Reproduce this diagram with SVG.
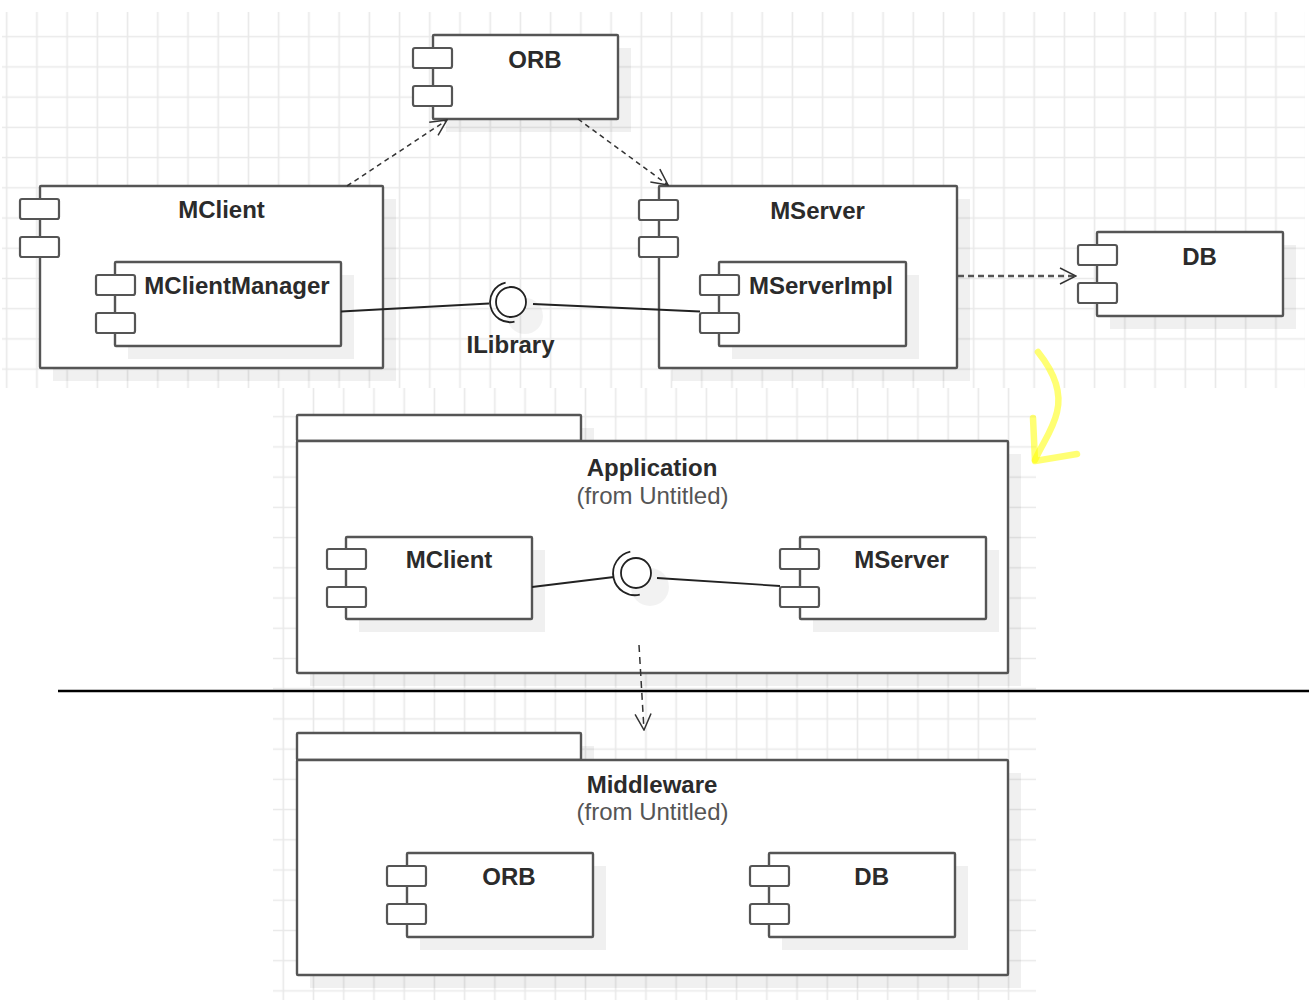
<svg xmlns="http://www.w3.org/2000/svg" width="1309" height="1000" viewBox="0 0 1309 1000">
<style>
.box{fill:#fff;stroke:#555;stroke-width:2.4}
.tab{fill:#fff;stroke:#555;stroke-width:2.2}
.sh{fill:#000;fill-opacity:0.06}
.name{font-family:"Liberation Sans",Arial,sans-serif;font-weight:bold;font-size:24px;fill:#2b2b2b;text-anchor:middle}
.from{font-family:"Liberation Sans",Arial,sans-serif;font-size:24px;fill:#555;text-anchor:middle}
.link{fill:none;stroke:#222;stroke-width:1.8}
.dep{fill:none;stroke:#333;stroke-width:1.5;stroke-dasharray:5 4}
.ball{fill:#fff;stroke:#222;stroke-width:1.8}
</style>
<defs>
<pattern id="gridTop" patternUnits="userSpaceOnUse" x="-8.41" y="21.59" width="30.22" height="30.22">
<path d="M15.11 0V30.22M0 15.11H30.22" stroke="#e9e9e9" stroke-width="1.6" fill="none"/>
</pattern>
<pattern id="gridLow" patternUnits="userSpaceOnUse" x="268.2" y="401.6" width="30.22" height="30.22">
<path d="M15.11 0V30.22M0 15.11H30.22" stroke="#e9e9e9" stroke-width="1.6" fill="none"/>
</pattern>
<marker id="open" viewBox="0 0 18 18" refX="17" refY="9" markerWidth="18" markerHeight="18" markerUnits="userSpaceOnUse" orient="auto">
<path d="M1,1 L17,9 L1,17" fill="none" stroke="#333" stroke-width="1.5"/>
</marker>
</defs>
<rect width="1309" height="1000" fill="#fff"/>
<rect x="2" y="12" width="1303" height="376" fill="url(#gridTop)"/>
<rect x="273" y="388" width="763" height="612" fill="url(#gridLow)"/>

<g id="ORB">
<rect class="sh" x="446" y="48" width="185" height="84"/>
<rect class="box" x="433" y="35" width="185" height="84" rx="1"/>
<rect class="tab" x="413" y="48" width="39" height="20" rx="2"/>
<rect class="tab" x="413" y="86" width="39" height="20" rx="2"/>
<text class="name" x="535" y="68">ORB</text>
</g>

<g id="MClient">
<rect class="sh" x="53" y="199" width="343" height="182"/>
<rect class="box" x="40" y="186" width="343" height="182" rx="1"/>
<rect class="tab" x="20" y="199" width="39" height="20" rx="2"/>
<rect class="tab" x="20" y="237" width="39" height="20" rx="2"/>
<text class="name" x="221.5" y="218">MClient</text>
</g>

<g id="MClientManager">
<rect class="sh" x="128" y="275" width="226" height="84"/>
<rect class="box" x="115" y="262" width="226" height="84" rx="1"/>
<rect class="tab" x="96" y="275" width="39" height="20" rx="2"/>
<rect class="tab" x="96" y="313" width="39" height="20" rx="2"/>
<text class="name" x="237" y="294">MClientManager</text>
</g>

<g id="MServer">
<rect class="sh" x="672" y="199" width="298" height="182"/>
<rect class="box" x="659" y="186" width="298" height="182" rx="1"/>
<rect class="tab" x="639" y="200" width="39" height="20" rx="2"/>
<rect class="tab" x="639" y="237" width="39" height="20" rx="2"/>
<text class="name" x="817.5" y="219">MServer</text>
</g>

<g id="MServerImpl">
<rect class="sh" x="732" y="275" width="187" height="84"/>
<rect class="box" x="719" y="262" width="187" height="84" rx="1"/>
<rect class="tab" x="700" y="275" width="39" height="20" rx="2"/>
<rect class="tab" x="700" y="313" width="39" height="20" rx="2"/>
<text class="name" x="821" y="294">MServerImpl</text>
</g>

<g id="DB">
<rect class="sh" x="1110" y="245" width="186" height="84"/>
<rect class="box" x="1097" y="232" width="186" height="84" rx="1"/>
<rect class="tab" x="1078" y="245" width="39" height="20" rx="2"/>
<rect class="tab" x="1078" y="283" width="39" height="20" rx="2"/>
<text class="name" x="1199.5" y="265">DB</text>
</g>

<g id="ILibrary">
<circle cx="525" cy="316" r="18" fill="#000" fill-opacity="0.05"/>
<circle class="ball" cx="511" cy="302" r="15"/>
<path class="link" d="M505.6,282.7 A20,20 0 0,0 514.5,321.7"/>
<text class="name" x="510.5" y="353">ILibrary</text>
</g>

<g id="Application">
<rect class="sh" x="310" y="428" width="284" height="26"/>
<rect class="sh" x="310" y="454" width="711" height="232"/>
<rect class="box" x="297" y="415" width="284" height="26" rx="1"/>
<rect class="box" x="297" y="441" width="711" height="232" rx="1"/>
<text class="name" x="652" y="476">Application</text>
<text class="from" x="652.5" y="504">(from Untitled)</text>
</g>

<g id="App-MClient">
<rect class="sh" x="359" y="550" width="186" height="82"/>
<rect class="box" x="346" y="537" width="186" height="82" rx="1"/>
<rect class="tab" x="327" y="549" width="39" height="20" rx="2"/>
<rect class="tab" x="327" y="587" width="39" height="20" rx="2"/>
<text class="name" x="449" y="568">MClient</text>
</g>

<g id="App-MServer">
<rect class="sh" x="813" y="550" width="186" height="82"/>
<rect class="box" x="800" y="537" width="186" height="82" rx="1"/>
<rect class="tab" x="780" y="549" width="39" height="20" rx="2"/>
<rect class="tab" x="780" y="587" width="39" height="20" rx="2"/>
<text class="name" x="901.6" y="568">MServer</text>
</g>

<g id="App-Interface">
<circle cx="650" cy="587" r="19" fill="#000" fill-opacity="0.05"/>
<circle class="ball" cx="636" cy="573" r="15"/>
<path class="link" d="M630.3,551.7 A22,22 0 0,0 639.8,594.7"/>
</g>

<g id="Middleware">
<rect class="sh" x="310" y="746" width="284" height="27"/>
<rect class="sh" x="310" y="773" width="711" height="215"/>
<rect class="box" x="297" y="733" width="284" height="27" rx="1"/>
<rect class="box" x="297" y="760" width="711" height="215" rx="1"/>
<text class="name" x="652" y="793">Middleware</text>
<text class="from" x="652.5" y="820">(from Untitled)</text>
</g>

<g id="MW-ORB">
<rect class="sh" x="420" y="866" width="186" height="84"/>
<rect class="box" x="407" y="853" width="186" height="84" rx="1"/>
<rect class="tab" x="387" y="866" width="39" height="20" rx="2"/>
<rect class="tab" x="387" y="904" width="39" height="20" rx="2"/>
<text class="name" x="509" y="885">ORB</text>
</g>

<g id="MW-DB">
<rect class="sh" x="782" y="866" width="186" height="84"/>
<rect class="box" x="769" y="853" width="186" height="84" rx="1"/>
<rect class="tab" x="750" y="866" width="39" height="20" rx="2"/>
<rect class="tab" x="750" y="904" width="39" height="20" rx="2"/>
<text class="name" x="871.7" y="885">DB</text>
</g>

<g id="connectors">
<path class="link" d="M341,311.5 L489,303.5"/>
<path class="link" d="M533,304 L700,311.5"/>
<path class="link" d="M532,587 L614,577"/>
<path class="link" d="M657,578 L780,586"/>
<path class="dep" d="M347,186 L447,120" marker-end="url(#open)"/>
<path class="dep" d="M578,119 L668,185" marker-end="url(#open)"/>
<path class="dep" d="M958,276 L1076,276" style="stroke:#555;stroke-width:2.6;stroke-dasharray:6 4" marker-end="url(#open)"/>
<path class="dep" d="M639,645 L644,730" style="stroke-dasharray:7 5" marker-end="url(#open)"/>
</g>

<line x1="58" y1="691" x2="1309" y2="691" stroke="#000" stroke-width="2.4"/>

<g id="highlight" fill="none" stroke="#ffff00" stroke-opacity="0.55" stroke-width="6.5" stroke-linecap="round" stroke-linejoin="round">
<path d="M1038,352 C1054,372 1062,392 1057,412 C1053,430 1042,444 1035,460"/>
<path d="M1033,418 L1035,461 L1077,454"/>
</g>
</svg>
